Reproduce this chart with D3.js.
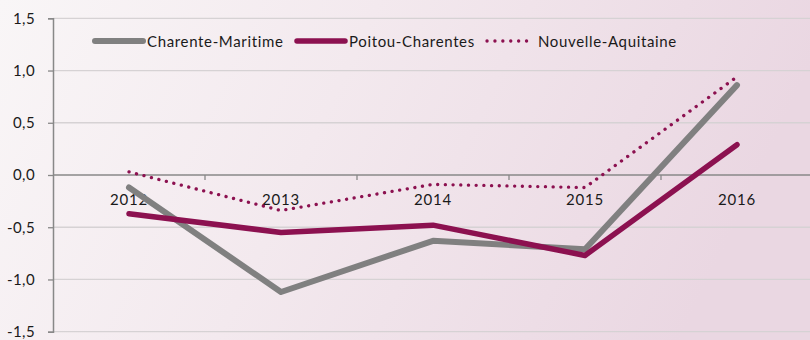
<!DOCTYPE html>
<html>
<head>
<meta charset="utf-8">
<script src="https://cdn.jsdelivr.net/npm/d3@7"></script>
<style>
  html, body { margin: 0; padding: 0; background: #fff; }
  svg { display: block; }
  text { font-family: Lato, "Open Sans", "Liberation Sans", sans-serif; fill: #1a1a1a; }
</style>
</head>
<body>
<svg id="chart" width="810" height="340"></svg>
<script>
// Years on the category axis
const years = ["2012", "2013", "2014", "2015", "2016"];
// Annual change per territory
const charenteMaritime = [-0.12, -1.12, -0.63, -0.71, 0.86];
const poitouCharentes = [-0.37, -0.55, -0.48, -0.77, 0.29];
const nouvelleAquitaine = [0.03, -0.34, -0.09, -0.12, 0.94];
// Value axis ticks
const yTicks = [-1.5, -1.0, -0.5, 0.0, 0.5, 1.0, 1.5];

const series = [
  { name: "Charente-Maritime", values: charenteMaritime, color: "#808080", width: 6, dotted: false },
  { name: "Poitou-Charentes", values: poitouCharentes, color: "#8c1150", width: 5.5, dotted: false },
  { name: "Nouvelle-Aquitaine", values: nouvelleAquitaine, color: "#8c1150", width: 3.3, dotted: true }
];

const W = 810, H = 340;
const svg = d3.select("#chart");

// Background: soft white-to-pink wash
const defs = svg.append("defs");
const grad = defs.append("linearGradient").attr("id", "bg")
  .attr("x1", "0%").attr("y1", "0%").attr("x2", "100%").attr("y2", "20%");
grad.append("stop").attr("offset", "0%").attr("stop-color", "#f9f6f7");
grad.append("stop").attr("offset", "45%").attr("stop-color", "#f3e9ee");
grad.append("stop").attr("offset", "100%").attr("stop-color", "#ead7e2");
svg.append("rect").attr("width", W).attr("height", H).attr("fill", "url(#bg)");

const left = 53, right = 813;
const x = d3.scaleBand().domain(years).range([left, right]);
const y = d3.scaleLinear().domain([-1.5, 1.5]).range([331.7, 18.3]);
const fmt = v => d3.format(".1f")(v).replace(".", ",").replace("−", "-");

// Horizontal gridlines
svg.append("g").selectAll("line").data(yTicks.filter(t => t !== 0)).join("line")
  .attr("x1", left).attr("x2", W)
  .attr("y1", d => y(d)).attr("y2", d => y(d))
  .attr("stroke", "#d6d2d4").attr("stroke-width", 1.3);

// Value axis
const yAxis = svg.append("g").attr("transform", `translate(${left},0)`)
  .call(d3.axisLeft(y).tickValues(yTicks).tickFormat(fmt).tickSize(5).tickPadding(13));
yAxis.select(".domain").attr("stroke", "#888").attr("stroke-width", 1.5);
yAxis.selectAll(".tick line").attr("stroke", "#888").attr("stroke-width", 1.3);
yAxis.selectAll(".tick text").attr("font-size", 15).attr("fill", "#1a1a1a")
  .attr("letter-spacing", 0.4)
  .style("font-family", "Lato, 'Open Sans', sans-serif");

// Category axis sitting on zero
const xAxis = svg.append("g").attr("transform", `translate(0,${y(0)})`)
  .call(d3.axisBottom(x).tickSize(0).tickPadding(19));
xAxis.select(".domain").attr("d", `M${left},0H${W}`).attr("stroke", "#888").attr("stroke-width", 1.5);
xAxis.selectAll(".tick text").attr("font-size", 15).attr("fill", "#1a1a1a")
  .attr("letter-spacing", 0.8)
  .style("font-family", "Lato, 'Open Sans', sans-serif");
// Tick marks between categories
svg.append("g").selectAll("line").data(years.slice(1)).join("line")
  .attr("x1", d => x(d)).attr("x2", d => x(d))
  .attr("y1", y(0)).attr("y2", y(0) + 5)
  .attr("stroke", "#888").attr("stroke-width", 1.3);

// Series lines
const line = d3.line().x((d, i) => x(years[i]) + x.bandwidth() / 2).y(d => y(d));
series.forEach(s => {
  const p = svg.append("path").datum(s.values)
    .attr("d", line)
    .attr("fill", "none")
    .attr("stroke", s.color)
    .attr("stroke-width", s.width)
    .attr("stroke-linejoin", "round")
    .attr("stroke-linecap", "round");
  if (s.dotted) p.attr("stroke-dasharray", "0.1 7.6");
});

// Legend
const legend = [
  { s: series[0], x0: 95, x1: 143, tx: 147 },
  { s: series[1], x0: 297, x1: 345, tx: 349 },
  { s: series[2], x0: 487, x1: 527, tx: 538 }
];
const ly = 41;
legend.forEach(l => {
  const p = svg.append("line")
    .attr("x1", l.x0).attr("x2", l.x1).attr("y1", ly).attr("y2", ly)
    .attr("stroke", l.s.color).attr("stroke-width", l.s.width)
    .attr("stroke-linecap", "round");
  if (l.s.dotted) p.attr("stroke-dasharray", "0.1 7.8");
  svg.append("text").attr("x", l.tx).attr("y", ly + 5.5)
    .attr("font-size", 15).attr("letter-spacing", 0.65).text(l.s.name);
});
</script>
</body>
</html>
